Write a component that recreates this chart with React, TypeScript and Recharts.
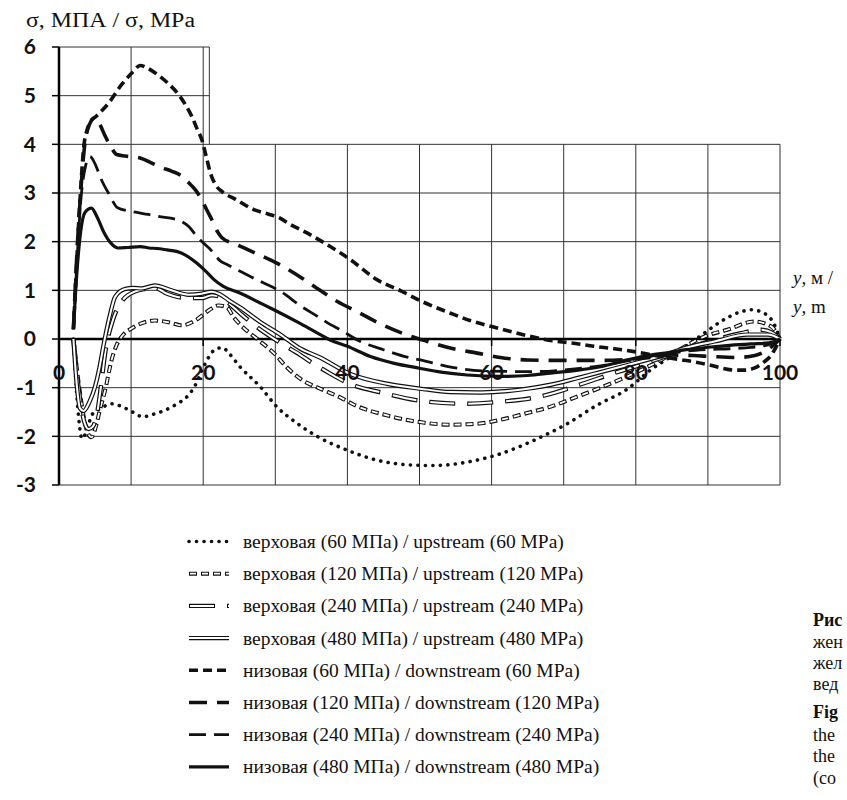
import React from "react";
import { LineChart, Line, XAxis, YAxis, ReferenceLine } from "recharts";

// [x (m), sigma (MPa)]
const UP_60: [number, number][] = [
  [2, 0], [2.6, -1.4], [3.2, -2.05], [3.8, -1.9], [4.6, -1.55], [5.9, -1.42], [7.2, -1.33], [8.6, -1.38],
  [10.2, -1.5], [11.6, -1.6], [13, -1.55], [14.6, -1.47], [16.4, -1.33], [17.8, -1.18], [18.9, -0.95],
  [19.8, -0.65], [20.7, -0.39], [21.8, -0.2], [22.7, -0.18], [23.6, -0.3], [25.1, -0.57], [27.9, -0.98],
  [30.2, -1.39], [33, -1.73], [35.8, -2.0], [39.9, -2.28], [44.1, -2.49], [49, -2.59], [52, -2.6],
  [56.6, -2.53], [61.2, -2.36], [65.9, -2.08], [70.5, -1.74], [74.5, -1.37], [78.8, -1.03], [82.1, -0.63],
  [84.9, -0.36], [87.6, -0.08], [89.5, 0.12], [91.8, 0.36], [94.6, 0.56], [96, 0.6], [97.8, 0.53],
  [99.2, 0.3], [100, 0],
];
const UP_120: [number, number][] = [
  [2, 0], [3, -1.2], [3.8, -1.85], [4.5, -2.02], [5.2, -1.75], [5.6, -1.5], [6.4, -1.05], [7.3, -0.43],
  [8, -0.12], [8.7, 0.05], [10.1, 0.22], [11.6, 0.33], [13.3, 0.38], [15.6, 0.33], [17, 0.28], [18.9, 0.38],
  [20.7, 0.58], [22.1, 0.69], [23.3, 0.65], [24.2, 0.45], [25.1, 0.3], [27.5, 0], [29.8, -0.29],
  [31.6, -0.58], [33.5, -0.82], [36.2, -1.02], [39, -1.2], [40.9, -1.35], [45.5, -1.57], [49.7, -1.7],
  [54.3, -1.76], [58, -1.74], [61.2, -1.66], [64.7, -1.53], [68.2, -1.39], [71.6, -1.2], [75.1, -1.0],
  [78.8, -0.77], [83.5, -0.43], [86.5, -0.18], [89.5, 0.05], [92.7, 0.19], [96.4, 0.36], [98.75, 0.26],
  [100, 0],
];
const UP_240: [number, number][] = [
  [2, 0], [2.8, -1.1], [3.5, -1.7], [4.1, -1.85], [4.7, -1.8], [5.2, -1.59], [5.8, -1.0], [6.4, -0.29],
  [7.5, 0.4], [8.7, 0.77], [10.6, 0.98], [12, 1.03], [13.3, 1.05], [15, 0.93], [16.6, 0.86], [18.5, 0.84],
  [19.8, 0.84], [21.2, 0.9], [22.1, 0.88], [23.5, 0.74], [25.1, 0.53], [27.5, 0.24], [30.7, -0.08],
  [33.5, -0.33], [34.9, -0.47], [37.5, -0.7], [40, -0.9], [45, -1.11], [50.6, -1.28], [56.2, -1.33],
  [61.2, -1.29], [66.8, -1.18], [72.4, -0.93], [77, -0.7], [80.3, -0.55], [83.5, -0.39], [87, -0.2],
  [90.9, -0.02], [94.6, 0.12], [97.4, 0.19], [99, 0.12], [100, 0],
];
const UP_480: [number, number][] = [
  [2, 0], [2.5, -1.0], [2.9, -1.42], [3.4, -1.48], [4.2, -1.3], [5, -0.98], [5.6, -0.6], [6.15, -0.15],
  [7, 0.45], [7.8, 0.87], [9.2, 1.03], [10.3, 1.05], [11.5, 1.04], [13.3, 1.1], [15.6, 1.0], [18, 0.91],
  [19.8, 0.93], [21.2, 0.97], [22.3, 0.92], [23.5, 0.8], [25.1, 0.65], [27.9, 0.35], [30.7, 0.09],
  [33.5, -0.2], [36.2, -0.38], [40.4, -0.72], [45.5, -0.92], [50.1, -1.02], [54.3, -1.09], [58, -1.1],
  [61.2, -1.08], [65, -1.02], [68.2, -0.94], [72, -0.8], [75.1, -0.68], [79, -0.53], [83.5, -0.35],
  [87, -0.18], [90.9, -0.05], [95.5, 0.09], [98.3, 0.09], [100, 0],
];
const DOWN_60: [number, number][] = [
  [2, 0.2], [2.4, 1.4], [2.7, 2.3], [3.1, 3.3], [3.4, 3.9], [3.9, 4.3], [4.3, 4.45], [5.2, 4.58],
  [6.9, 4.85], [8.7, 5.23], [10.2, 5.48], [11.25, 5.62], [12.2, 5.57], [13.3, 5.47], [15, 5.27],
  [16.6, 5.02], [17.6, 4.8], [18.4, 4.58], [19.2, 4.3], [19.8, 4.1], [20.5, 3.7], [21, 3.41], [21.8, 3.15],
  [22.7, 3.02], [24.5, 2.87], [27, 2.66], [29, 2.57], [30.7, 2.48], [32, 2.36], [34.4, 2.18], [36.5, 2.0],
  [39, 1.77], [40.4, 1.63], [44.1, 1.22], [47.4, 0.99], [50.5, 0.76], [54.3, 0.53], [57, 0.38],
  [59.9, 0.26], [63, 0.14], [65.5, 0.05], [68.2, -0.03], [71, -0.08], [74.2, -0.15], [77, -0.2],
  [79.8, -0.26], [83.5, -0.36], [86, -0.42], [88.1, -0.47], [90.4, -0.54], [92, -0.6], [93.7, -0.64],
  [95.2, -0.64], [96.4, -0.6], [97.8, -0.47], [98.75, -0.34], [99.5, -0.15], [100, 0],
];
const DOWN_120: [number, number][] = [
  [2, 0.2], [2.5, 1.8], [3, 3.0], [3.5, 3.9], [4.2, 4.4], [5, 4.55], [5.7, 4.4], [6.4, 4.17], [7.2, 3.95],
  [8, 3.79], [9.2, 3.76], [11.25, 3.72], [12.8, 3.62], [14.3, 3.52], [15.6, 3.45], [17, 3.35], [18, 3.21],
  [19, 3.05], [19.8, 2.86], [20.5, 2.65], [21.2, 2.45], [22, 2.2], [22.6, 2.08], [24.5, 1.95], [27, 1.78],
  [30.2, 1.56], [33.5, 1.27], [36.2, 1.0], [38.6, 0.77], [41.5, 0.55], [44.3, 0.33], [47.4, 0.13],
  [51.1, -0.05], [54.7, -0.2], [58, -0.29], [61.2, -0.38], [65, -0.43], [69.6, -0.44], [75, -0.44],
  [78.8, -0.42], [82, -0.38], [85, -0.33], [88, -0.34], [90.5, -0.36], [94, -0.38], [96.5, -0.34],
  [98.5, -0.2], [100, 0],
];
const DOWN_240: [number, number][] = [
  [2, 0.2], [2.5, 1.6], [3, 2.8], [3.6, 3.5], [4.3, 3.75], [5, 3.6], [5.8, 3.3], [6.85, 3.0], [8.2, 2.69],
  [10.1, 2.62], [12.4, 2.56], [13.8, 2.52], [16.4, 2.45], [18, 2.31], [19.1, 2.11], [20.2, 1.95], [21, 1.84],
  [22.4, 1.6], [23.3, 1.53], [25, 1.4], [27, 1.25], [28.4, 1.15], [30.7, 0.98], [33.5, 0.68], [35.8, 0.47],
  [37.6, 0.3], [39, 0.19], [41.8, -0.05], [45, -0.22], [48.75, -0.39], [50.1, -0.43], [53.8, -0.56],
  [59.4, -0.66], [65.9, -0.67], [70.5, -0.63], [75.1, -0.55], [78.8, -0.45], [82, -0.35], [84.5, -0.3],
  [87, -0.25], [89.7, -0.22], [93, -0.2], [96, -0.17], [97.8, -0.14], [99.3, -0.06], [100, 0],
];
const DOWN_480: [number, number][] = [
  [2, 0.2], [2.5, 1.4], [3, 2.2], [3.6, 2.6], [4.5, 2.69], [5.3, 2.5], [6.2, 2.2], [7.2, 1.97], [8.2, 1.87],
  [9.5, 1.88], [11.25, 1.9], [12.5, 1.87], [13.6, 1.86], [15, 1.83], [16.3, 1.8], [17.6, 1.72], [19.1, 1.56],
  [20.3, 1.4], [21.5, 1.22], [22.8, 1.08], [25, 0.95], [27.9, 0.74], [29.8, 0.6], [33.3, 0.33], [35.5, 0.15],
  [37.6, -0.02], [40, -0.15], [43.2, -0.36], [46.5, -0.5], [50, -0.6], [53, -0.68], [56.6, -0.74],
  [61.2, -0.77], [65, -0.75], [68.2, -0.7], [72, -0.64], [75.1, -0.57], [78.8, -0.43], [82, -0.33],
  [84.5, -0.28], [87, -0.22], [90, -0.17], [93, -0.13], [96, -0.1], [98.5, -0.08], [100, 0],
];

const X_TICKS = [0, 20, 40, 60, 80, 100];
const Y_TICKS = [-3, -2, -1, 0, 1, 2, 3, 4, 5, 6];
const GRID_X_TALL = [10, 20];
const GRID_X_LOW = [30, 40, 50, 60, 70, 80, 90, 100];
const GRID_Y_WIDE = [-3, -2, -1, 1, 2, 3, 4];
const GRID_Y_NARROW = [5, 6];
const STEP_X = 20.85; // where the plot frame steps down from 6 to 4

const LABELS = [
  "верховая (60 МПа) / upstream (60 MPa)",
  "верховая (120 МПа) / upstream (120 MPa)",
  "верховая (240 МПа) / upstream (240 MPa)",
  "верховая (480 МПа) / upstream (480 MPa)",
  "низовая (60 МПа) / downstream (60 MPa)",
  "низовая (120 МПа) / downstream (120 MPa)",
  "низовая (240 МПа) / downstream (240 MPa)",
  "низовая (480 МПа) / downstream (480 MPa)",
];
// caption column of the page, cut by the right edge of the picture
const CAPTION = ["Рис", "жен", "жел", "вед", "Fig", "the", "the", "(co"];
const CAPTION_Y = [626, 648, 669, 690, 718, 741, 762, 784];

type Style = {
  width: number;
  dash?: string;
  cap?: "round" | "butt";
  hollow?: { width: number; dash?: string; offset?: number };
};

const STYLES: Style[] = [
  { width: 3.6, dash: "0.1 7.4", cap: "round" },
  { width: 4, dash: "8 4", hollow: { width: 1.8, dash: "6 6", offset: -1 } },
  { width: 4.4, dash: "26 12", hollow: { width: 2, dash: "24 14", offset: -1 } },
  { width: 4.4, hollow: { width: 2 } },
  { width: 3.6, dash: "9 5" },
  { width: 3.6, dash: "18 10" },
  { width: 2.8, dash: "17 8" },
  { width: 3.2 },
];

const SERIES = [UP_60, UP_120, UP_240, UP_480, DOWN_60, DOWN_120, DOWN_240, DOWN_480];

const toPoints = (arr: [number, number][]) => arr.map(([x, y]) => ({ x, y }));

const PLOT_TOP = 47;
const PLOT_BOTTOM = 485;
const ZERO_Y = PLOT_TOP + ((PLOT_BOTTOM - PLOT_TOP) * 6) / 9;
const AXIS_FONT = "Lato, 'Open Sans', 'DejaVu Sans', sans-serif";
const SERIF = "'Liberation Serif', 'Times New Roman', serif";

function XTick(props: any) {
  const { x, payload } = props;
  return (
    <g>
      <line x1={x} x2={x} y1={ZERO_Y} y2={ZERO_Y + 7} stroke="#000" strokeWidth={1.5} />
      <text
        x={x}
        y={ZERO_Y + 41}
        textAnchor="middle"
        fontFamily={AXIS_FONT}
        fontWeight={700}
        fontSize={21}
        fill="#111"
      >
        {payload.value}
      </text>
    </g>
  );
}

const gridStroke = "#333";

export default function App() {
  return (
    <div
      style={{
        position: "absolute",
        left: 0,
        top: 0,
        width: 847,
        height: 800,
        overflow: "hidden",
        background: "#fff",
      }}
    >
      <LineChart width={847} height={500} margin={{ top: PLOT_TOP, right: 67, bottom: 0, left: 0 }}>
        <XAxis
          dataKey="x"
          type="number"
          domain={[0, 100]}
          ticks={X_TICKS}
          interval={0}
          height={15}
          axisLine={false}
          tickLine={false}
          tick={<XTick />}
        />
        <YAxis
          type="number"
          domain={[-3, 6]}
          ticks={Y_TICKS}
          interval={0}
          width={59}
          axisLine={{ stroke: "#000", strokeWidth: 2.5 }}
          tickLine={{ stroke: "#000", strokeWidth: 1.5 }}
          tickSize={7}
          tickMargin={16}
          tick={{ fill: "#111", fontSize: 21, fontWeight: 700, fontFamily: AXIS_FONT }}
        />
        {GRID_Y_WIDE.map((v) => (
          <ReferenceLine key={`gy${v}`} segment={[{ x: 0, y: v }, { x: 100, y: v }]} stroke={gridStroke} strokeWidth={1} />
        ))}
        {GRID_Y_NARROW.map((v) => (
          <ReferenceLine key={`gn${v}`} segment={[{ x: 0, y: v }, { x: STEP_X, y: v }]} stroke={gridStroke} strokeWidth={1} />
        ))}
        {GRID_X_TALL.map((v) => (
          <ReferenceLine key={`gt${v}`} segment={[{ x: v, y: -3 }, { x: v, y: 6 }]} stroke={gridStroke} strokeWidth={1} />
        ))}
        {GRID_X_LOW.map((v) => (
          <ReferenceLine key={`gl${v}`} segment={[{ x: v, y: -3 }, { x: v, y: 4 }]} stroke={gridStroke} strokeWidth={1} />
        ))}
        <ReferenceLine segment={[{ x: STEP_X, y: 4 }, { x: STEP_X, y: 6 }]} stroke={gridStroke} strokeWidth={1} />
        <ReferenceLine y={0} stroke="#000" strokeWidth={2.5} />
        {SERIES.map((arr, i) => {
          const s = STYLES[i];
          const pts = toPoints(arr);
          const out = [
            <Line
              key={`o${i}`}
              data={pts}
              dataKey="y"
              type="monotone"
              stroke="#111"
              strokeWidth={s.width}
              strokeDasharray={s.dash}
              strokeLinecap={s.cap ?? "butt"}
              dot={false}
              activeDot={false}
              isAnimationActive={false}
            />,
          ];
          if (s.hollow) {
            out.push(
              <Line
                key={`h${i}`}
                data={pts}
                dataKey="y"
                type="monotone"
                stroke="#fff"
                strokeWidth={s.hollow.width}
                strokeDasharray={s.hollow.dash}
                strokeDashoffset={s.hollow.offset}
                dot={false}
                activeDot={false}
                isAnimationActive={false}
              />
            );
          }
          return out;
        })}
      </LineChart>

      <svg width={847} height={800} style={{ position: "absolute", left: 0, top: 0, pointerEvents: "none" }}>
        <text
          x={26}
          y={27}
          fontFamily={SERIF}
          fontSize={20}
          textLength={169}
          lengthAdjust="spacingAndGlyphs"
          fill="#111"
        >
          σ, МПА / σ, MPa
        </text>
        <text x={793} y={284} fontFamily={SERIF} fontSize={19} fill="#111">
          <tspan fontStyle="italic">y</tspan>, м /
        </text>
        <text x={793} y={313} fontFamily={SERIF} fontSize={19} fill="#111">
          <tspan fontStyle="italic">y</tspan>, m
        </text>
        {LABELS.map((label, i) => {
          const s = STYLES[i];
          const cy = 541.5 + i * 32.2;
          return (
            <g key={label}>
              <line
                x1={189}
                x2={229}
                y1={cy}
                y2={cy}
                stroke="#111"
                strokeWidth={s.width}
                strokeDasharray={s.dash}
                strokeLinecap={s.cap ?? "butt"}
              />
              {s.hollow && (
                <line
                  x1={189}
                  x2={229}
                  y1={cy}
                  y2={cy}
                  stroke="#fff"
                  strokeWidth={s.hollow.width}
                  strokeDasharray={s.hollow.dash}
                  strokeDashoffset={s.hollow.offset}
                />
              )}
              <text x={243} y={cy + 6.5} fontFamily={SERIF} fontSize={19.5} fill="#111">
                {label}
              </text>
            </g>
          );
        })}
        {CAPTION.map((t, i) => (
          <text
            key={i}
            x={813}
            y={CAPTION_Y[i]}
            fontFamily={SERIF}
            fontSize={18}
            fontWeight={i === 0 || i === 4 ? 700 : 400}
            fill="#111"
          >
            {t}
          </text>
        ))}
      </svg>
    </div>
  );
}
